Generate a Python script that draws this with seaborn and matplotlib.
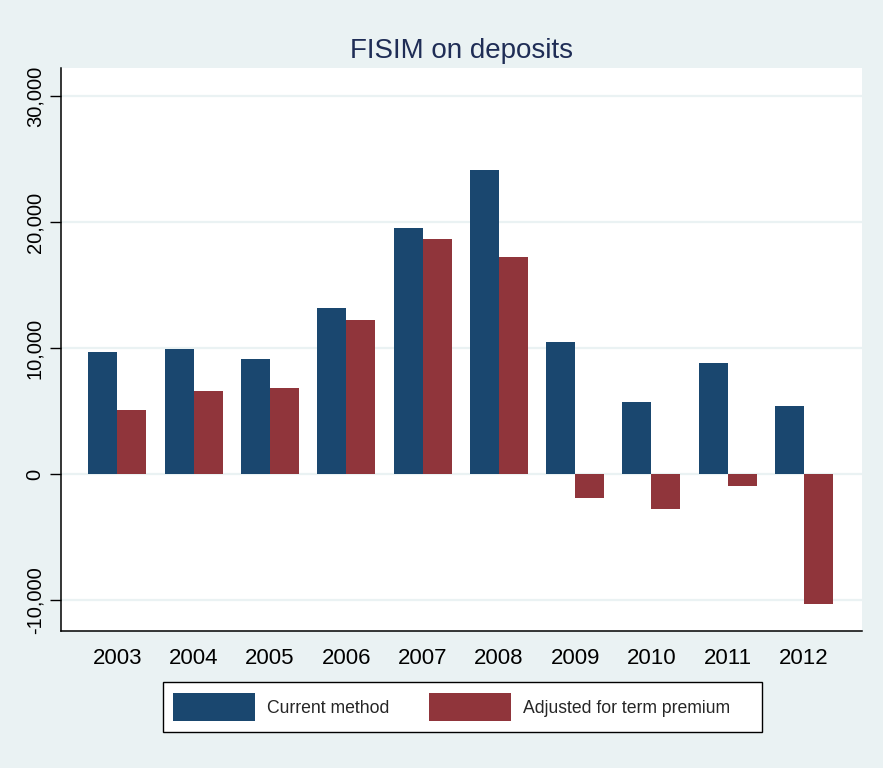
import matplotlib
matplotlib.use("Agg")
import matplotlib.pyplot as plt
import matplotlib.ticker as mticker
from matplotlib.patches import Rectangle
import seaborn as sns
import pandas as pd

# ---- data ----
years = ["2003", "2004", "2005", "2006", "2007", "2008", "2009", "2010", "2011", "2012"]
current_method = [9700, 9900, 9130, 13200, 19500, 24130, 10500, 5690, 8780, 5420]
adjusted_term_premium = [5060, 6560, 6830, 12220, 18620, 17200, -1930, -2800, -950, -10290]
series_names = ["Current method", "Adjusted for term premium"]
y_ticks = [-10000, 0, 10000, 20000, 30000]
title = "FISIM on deposits"

df = pd.DataFrame({
    "year": years * 2,
    "value": current_method + adjusted_term_premium,
    "series": [series_names[0]] * len(years) + [series_names[1]] * len(years),
})

BG = "#EAF2F3"
NAVY = "#1A476F"
MAROON = "#90353B"

sns.set_theme(style="white")
plt.rcParams["font.family"] = ["Liberation Sans", "DejaVu Sans"]

fig = plt.figure(figsize=(8.83, 7.68), dpi=100, facecolor=BG)
ax = fig.add_axes([61 / 883, 137 / 768, 801 / 883, 563 / 768])
ax.set_facecolor("white")

sns.barplot(data=df, x="year", y="value", hue="series", order=years,
            hue_order=series_names, palette=[NAVY, MAROON], width=0.76,
            gap=0, linewidth=0, saturation=1, ax=ax, zorder=3)

ax.set_xlim(-0.74, 9.76)
ax.set_ylim(-12460, 32220)
ax.set_yticks(y_ticks)
ax.yaxis.set_major_formatter(mticker.FuncFormatter(lambda v, p: f"{v:,.0f}"))
ax.grid(axis="y", color=BG, linewidth=1.6, zorder=0)
ax.set_axisbelow(True)

for s in ["top", "right"]:
    ax.spines[s].set_visible(False)
for s in ["left", "bottom"]:
    ax.spines[s].set_color("black")
    ax.spines[s].set_linewidth(1.1)

ax.tick_params(axis="y", direction="out", length=8, width=1, color="black",
               pad=4, labelsize=14.5, labelcolor="black", left=True)
for lab in ax.get_yticklabels():
    lab.set_rotation(90)
    lab.set_va("center")
    lab.set_ha("right")
ax.tick_params(axis="x", length=0, pad=12, labelsize=16, labelcolor="black")
ax.set_xlabel("")
ax.set_ylabel("")

handles, labels = ax.get_legend_handles_labels()
if ax.get_legend() is not None:
    ax.get_legend().remove()

# legend frame (fixed box)
fig.patches.append(Rectangle((163 / 883, 36 / 768), 599 / 883, 50 / 768,
                             transform=fig.transFigure, facecolor="white",
                             edgecolor="black", linewidth=1.0, zorder=1))
leg = fig.legend(handles, labels, loc="center left", bbox_to_anchor=(173 / 883, 61 / 768),
                 ncol=2, frameon=False, fontsize=12.7,
                 handlelength=4.65, handleheight=2.1, handletextpad=0.7,
                 columnspacing=2.2, borderpad=0, borderaxespad=0)
leg.set_zorder(2)

fig.text(462 / 883, 710 / 768, title, ha="center", va="baseline",
         fontsize=20, color="#1F2D56")

fig.savefig("out.png", dpi=100, facecolor=BG)
